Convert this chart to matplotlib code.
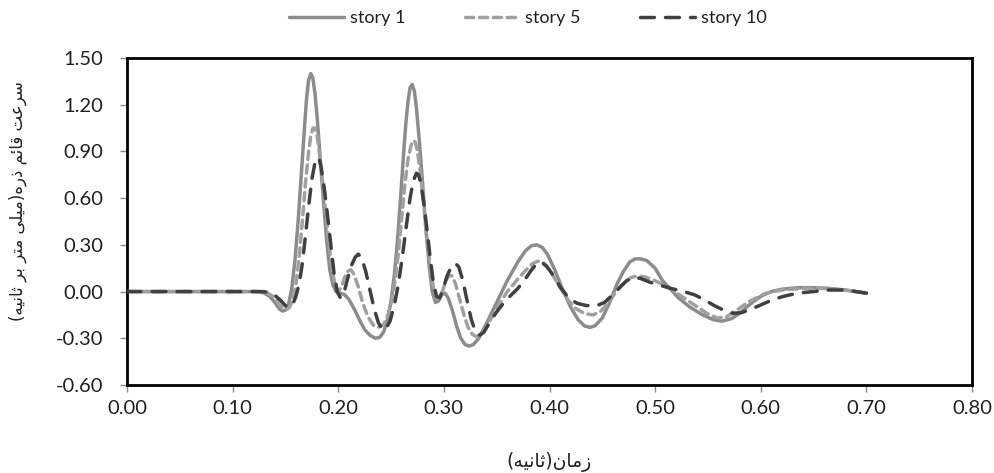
import matplotlib
matplotlib.use("Agg")
import matplotlib.pyplot as plt
from matplotlib.ticker import FixedLocator, FormatStrFormatter

# ---- data ----
t1 = [0.000, 0.120, 0.125, 0.130, 0.135, 0.140, 0.144, 0.147, 0.150, 0.153, 0.156, 0.159,
      0.162, 0.165, 0.168, 0.170, 0.172, 0.174, 0.176, 0.178, 0.180, 0.183, 0.186, 0.189,
      0.192, 0.195, 0.198, 0.202, 0.206, 0.210, 0.215, 0.220, 0.225, 0.230, 0.235, 0.239,
      0.243, 0.247, 0.250, 0.253, 0.256, 0.259, 0.262, 0.264, 0.266, 0.268, 0.270, 0.272,
      0.274, 0.277, 0.280, 0.283, 0.286, 0.289, 0.292, 0.295, 0.298, 0.301, 0.304, 0.308,
      0.312, 0.316, 0.320, 0.324, 0.328, 0.333, 0.340, 0.350, 0.360, 0.370, 0.377, 0.383,
      0.388, 0.393, 0.398, 0.405, 0.412, 0.420, 0.427, 0.433, 0.438, 0.443, 0.450, 0.457,
      0.464, 0.470, 0.476, 0.481, 0.486, 0.492, 0.500, 0.507, 0.514, 0.522, 0.533, 0.545,
      0.555, 0.563, 0.572, 0.580, 0.590, 0.600, 0.610, 0.620, 0.635, 0.650, 0.665, 0.680,
      0.690, 0.700]
story1 = [0.00, 0.00, -0.002, -0.01, -0.03, -0.07, -0.11, -0.125, -0.12, -0.08, 0.02, 0.20,
          0.45, 0.75, 1.05, 1.24, 1.36, 1.40, 1.37, 1.27, 1.12, 0.85, 0.58, 0.33,
          0.14, 0.04, 0.00, -0.01, -0.02, -0.05, -0.11, -0.18, -0.245, -0.28, -0.30, -0.295,
          -0.26, -0.17, -0.06, 0.10, 0.32, 0.60, 0.90, 1.08, 1.22, 1.31, 1.33, 1.29,
          1.18, 0.95, 0.68, 0.40, 0.17, 0.00, -0.07, -0.06, -0.02, -0.01, -0.04, -0.12,
          -0.22, -0.30, -0.34, -0.35, -0.34, -0.30, -0.21, -0.07, 0.07, 0.19, 0.26, 0.295,
          0.30, 0.285, 0.24, 0.14, 0.02, -0.10, -0.18, -0.22, -0.23, -0.22, -0.17, -0.07,
          0.05, 0.13, 0.19, 0.21, 0.21, 0.20, 0.15, 0.07, 0.02, -0.04, -0.10, -0.15,
          -0.18, -0.19, -0.175, -0.14, -0.08, -0.03, 0.00, 0.015, 0.025, 0.025, 0.02, 0.01,
          0.00, -0.01]

t5 = [0.000, 0.125, 0.132, 0.138, 0.143, 0.147, 0.151, 0.154, 0.157, 0.160, 0.163, 0.166,
      0.169, 0.172, 0.174, 0.176, 0.178, 0.180, 0.182, 0.185, 0.188, 0.191, 0.194, 0.197,
      0.200, 0.203, 0.206, 0.209, 0.212, 0.215, 0.219, 0.223, 0.228, 0.233, 0.238, 0.243,
      0.247, 0.251, 0.254, 0.257, 0.260, 0.263, 0.266, 0.269, 0.271, 0.273, 0.275, 0.278,
      0.281, 0.284, 0.287, 0.290, 0.293, 0.296, 0.299, 0.302, 0.305, 0.308, 0.311, 0.315,
      0.319, 0.323, 0.327, 0.331, 0.335, 0.340, 0.350, 0.360, 0.370, 0.378, 0.384, 0.389,
      0.394, 0.400, 0.408, 0.417, 0.425, 0.433, 0.441, 0.448, 0.456, 0.463, 0.470, 0.477,
      0.483, 0.490, 0.500, 0.512, 0.525, 0.538, 0.549, 0.559, 0.567, 0.577, 0.590, 0.605,
      0.620, 0.640, 0.660, 0.680, 0.700]
story5 = [0.00, 0.00, -0.005, -0.03, -0.07, -0.10, -0.115, -0.10, -0.05, 0.05, 0.22, 0.45,
          0.70, 0.90, 1.00, 1.05, 1.05, 1.00, 0.90, 0.72, 0.52, 0.32, 0.15, 0.04,
          0.00, 0.03, 0.09, 0.13, 0.14, 0.11, 0.03, -0.07, -0.16, -0.215, -0.23, -0.21,
          -0.15, -0.05, 0.08, 0.25, 0.47, 0.68, 0.85, 0.94, 0.97, 0.96, 0.90, 0.75,
          0.55, 0.34, 0.16, 0.03, -0.04, -0.04, 0.01, 0.07, 0.105, 0.10, 0.05, -0.05,
          -0.15, -0.23, -0.275, -0.29, -0.28, -0.23, -0.11, 0.00, 0.08, 0.14, 0.18, 0.195,
          0.185, 0.14, 0.05, -0.05, -0.11, -0.14, -0.15, -0.13, -0.07, 0.00, 0.05, 0.09,
          0.10, 0.095, 0.07, 0.03, -0.03, -0.09, -0.14, -0.17, -0.165, -0.12, -0.06, -0.01,
          0.01, 0.02, 0.02, 0.01, -0.01]

t10 = [0.000, 0.128, 0.135, 0.141, 0.146, 0.150, 0.154, 0.157, 0.160, 0.163, 0.166, 0.169,
       0.172, 0.175, 0.178, 0.180, 0.182, 0.184, 0.187, 0.190, 0.193, 0.196, 0.199, 0.202,
       0.205, 0.208, 0.212, 0.216, 0.219, 0.222, 0.226, 0.230, 0.234, 0.238, 0.242, 0.245,
       0.249, 0.253, 0.257, 0.261, 0.265, 0.268, 0.271, 0.274, 0.276, 0.278, 0.281, 0.284,
       0.287, 0.290, 0.293, 0.296, 0.299, 0.303, 0.307, 0.311, 0.314, 0.318, 0.322, 0.326,
       0.330, 0.334, 0.338, 0.344, 0.350, 0.357, 0.364, 0.370, 0.377, 0.383, 0.388, 0.392,
       0.397, 0.403, 0.410, 0.418, 0.426, 0.435, 0.445, 0.452, 0.460, 0.467, 0.473, 0.479,
       0.486, 0.495, 0.505, 0.515, 0.527, 0.537, 0.546, 0.556, 0.565, 0.574, 0.582, 0.592,
       0.602, 0.612, 0.622, 0.635, 0.650, 0.665, 0.680, 0.700]
story10 = [0.00, 0.00, -0.005, -0.03, -0.06, -0.09, -0.10, -0.08, -0.03, 0.05, 0.18, 0.36,
           0.55, 0.72, 0.83, 0.86, 0.85, 0.79, 0.65, 0.48, 0.30, 0.12, 0.00, -0.04,
           -0.02, 0.06, 0.16, 0.22, 0.24, 0.22, 0.13, 0.01, -0.11, -0.20, -0.245, -0.24,
           -0.19, -0.09, 0.05, 0.24, 0.45, 0.60, 0.71, 0.76, 0.75, 0.70, 0.57, 0.40,
           0.22, 0.06, -0.03, -0.04, 0.01, 0.10, 0.16, 0.18, 0.16, 0.07, -0.06, -0.18,
           -0.26, -0.28, -0.26, -0.19, -0.13, -0.07, -0.02, 0.02, 0.08, 0.14, 0.18, 0.19,
           0.165, 0.11, 0.03, -0.04, -0.075, -0.09, -0.09, -0.07, -0.02, 0.03, 0.07, 0.09,
           0.085, 0.06, 0.04, 0.02, 0.00, -0.02, -0.05, -0.09, -0.12, -0.14, -0.135, -0.11,
           -0.08, -0.05, -0.03, -0.01, 0.00, 0.01, 0.01, -0.01]

series_labels = ["story 1", "story 5", "story 10"]
x_ticks = [0.00, 0.10, 0.20, 0.30, 0.40, 0.50, 0.60, 0.70, 0.80]
y_ticks = [-0.60, -0.30, 0.00, 0.30, 0.60, 0.90, 1.20, 1.50]

# Persian labels, written in shaped (presentation) forms in logical order
x_label_shaped = "\uFEAF\uFEE3\uFE8E\uFEE5(\uFE9B\uFE8E\uFEE7\uFEF4\uFEEA)"
y_label_shaped = ("\uFEB3\uFEAE\uFECB\uFE96 \uFED7\uFE8E\uFE8B\uFEE2 \uFEAB\uFEAD\uFEE9("
                  "\uFEE3\uFEF4\uFEE0\uFEF0 \uFEE3\uFE98\uFEAE \uFE91\uFEAE "
                  "\uFE9B\uFE8E\uFEE7\uFEF4\uFEEA)")


def visual(s):
    return s[::-1].translate(str.maketrans("()", ")("))


plt.rcParams['font.family'] = ['Lato', 'DejaVu Sans']

fig = plt.figure(figsize=(9.95, 4.73), dpi=100)
ax = fig.add_axes([127 / 995, 88 / 473, 845 / 995, 327 / 473])

lw = 2.5
ax.plot(t1, story1, color="#8c8c8c", lw=lw, solid_capstyle="round",
        solid_joinstyle="round", label=series_labels[0], zorder=2)
ax.plot(t5, story5, color="#a0a0a0", lw=lw, linestyle=(0, (2.4, 1.6)),
        dash_capstyle="round", label=series_labels[1], zorder=3)
ax.plot(t10, story10, color="#404040", lw=lw, linestyle=(0, (4.0, 3.2)),
        dash_capstyle="round", label=series_labels[2], zorder=4)

ax.set_xlim(0, 0.80)
ax.set_ylim(-0.60, 1.50)
ax.xaxis.set_major_locator(FixedLocator(x_ticks))
ax.yaxis.set_major_locator(FixedLocator(y_ticks))
ax.xaxis.set_major_formatter(FormatStrFormatter("%.2f"))
ax.yaxis.set_major_formatter(FormatStrFormatter("%.2f"))

for s in ax.spines.values():
    s.set_color("black")
    s.set_linewidth(2.0)

ax.tick_params(axis="both", which="major", direction="out", length=5, width=1,
               color="#8a8a8a", labelsize=14.5, labelcolor="#202020")
ax.tick_params(axis="y", pad=12)
ax.tick_params(axis="x", pad=6)

ax.set_xlabel(visual(x_label_shaped), family=["DejaVu Sans"], fontsize=13.5,
              color="#202020")
ax.xaxis.set_label_coords(0.5, -0.205)
ax.set_ylabel(visual(y_label_shaped), family=["DejaVu Sans"], fontsize=12,
              color="#202020")
ax.yaxis.set_label_coords(-0.129, 0.563)
ax.yaxis.label.set_va("center")

leg = fig.legend(loc="center", bbox_to_anchor=(528 / 995, 1 - 18 / 473), ncol=3,
                 frameon=False, fontsize=13, handlelength=3.0, handletextpad=0.35,
                 columnspacing=3.3)
for txt in leg.get_texts():
    txt.set_color("#202020")

fig.savefig("out.png", dpi=100)
